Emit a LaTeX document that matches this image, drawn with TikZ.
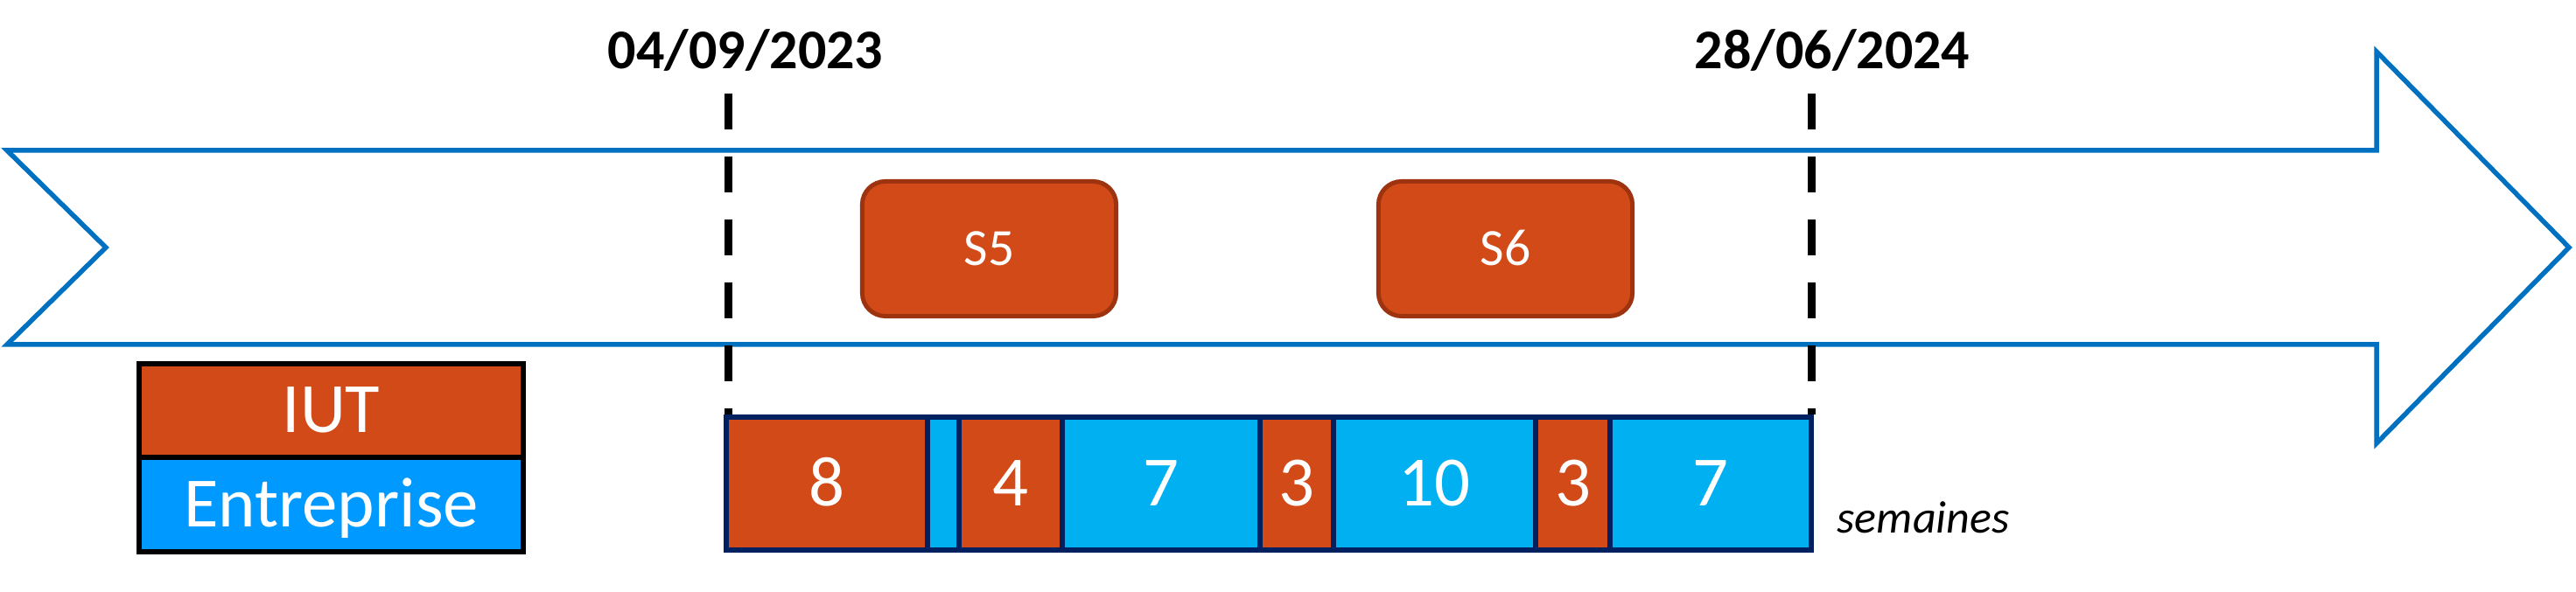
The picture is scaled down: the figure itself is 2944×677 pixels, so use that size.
\documentclass[tikz,border=0pt]{standalone}
\usepackage{fontspec}
\setmainfont{Carlito}
\definecolor{arrowblue}{HTML}{0070C0}
\definecolor{iutorange}{HTML}{D14A18}
\definecolor{sborder}{HTML}{9E3310}
\definecolor{entblue}{HTML}{0099FF}
\definecolor{barblue}{HTML}{00B0F0}
\definecolor{barnavy}{HTML}{002060}
\tikzset{
  arrowline/.style={draw=arrowblue, line width=1.56pt, line join=miter, fill=white},
  sbox/.style={rectangle, rounded corners=7.5pt, draw=sborder, fill=iutorange, line width=1.42pt,
    minimum width=2.9cm, minimum height=1.54cm, inner sep=0pt, text=white,
    font=\fontsize{17}{20}\selectfont, text height=10.7pt, text depth=0pt},
  cellbase/.style={rectangle, draw=barnavy, line width=1.7pt, minimum height=1.52cm, inner sep=0pt,
    text=white, font=\fontsize{23}{27}\selectfont, text height=14.5pt, text depth=0pt},
  iutcell/.style={cellbase, fill=iutorange},
  entcell/.style={cellbase, fill=barblue},
  legendcell/.style={rectangle, draw=black, line width=1.7pt, minimum width=4.39cm, inner sep=0pt,
    text=white, font=\fontsize{23}{27}\selectfont, text height=14.5pt, text depth=0pt},
  datelabel/.style={anchor=base, inner sep=0pt, font=\bfseries\fontsize{18.2}{21}\selectfont},
  datedash/.style={draw=black, line width=2.56pt, dash pattern=on 11.67pt off 8.82pt},
  unitlabel/.style={anchor=base west, inner sep=0pt, font=\itshape\fontsize{14.8}{17}\selectfont}
}
\begin{document}
\begin{tikzpicture}[x=0.01cm, y=-0.01cm]
\useasboundingbox (0,0) rectangle (2944,677);
% big arrow
\path[arrowline] (8,172) -- (2716,172) -- (2716,59) -- (2936,283) -- (2716,507)
  -- (2716,394) -- (8,394) -- (121,283) -- cycle;
% semester boxes
\node[sbox] (s5) at (1130.5,284.5) {S5};
\node[sbox] (s6) at (1720.5,284.5) {S6};
% legend
\node[legendcell, fill=iutorange, minimum height=1.07cm] (legiut) at (378.5,469.5) {IUT};
\node[legendcell, fill=entblue, minimum height=1.08cm] (legent) at (378.5,577) {Entreprise};
% timeline cells
\node[iutcell, minimum width=2.30cm] (c1) at (945,553) {8};
\node[entcell, minimum width=0.36cm] (c2) at (1078,553) {};
\node[iutcell, minimum width=1.18cm] (c3) at (1155,553) {4};
\node[entcell, minimum width=2.26cm] (c4) at (1327,553) {7};
\node[iutcell, minimum width=0.84cm] (c5) at (1482,553) {3};
\node[entcell, minimum width=2.31cm] (c6) at (1639.5,553) {10};
\node[iutcell, minimum width=0.85cm] (c7) at (1797.5,553) {3};
\node[entcell, minimum width=2.30cm] (c8) at (1955,553) {7};
\node[unitlabel] (unit) at (2099,610) {semaines};
% dates and dashed markers
\coordinate (d1) at (832,107);
\coordinate (d2) at (2070,107);
\draw[datedash] (d1) -- (d1 |- c1.north);
\draw[datedash] (d2) -- (d2 |- c8.north);
\node[datelabel] (date1) at (852,78.5) {04/09/2023};
\node[datelabel] (date2) at (2094,78.5) {28/06/2024};
\end{tikzpicture}
\end{document}
